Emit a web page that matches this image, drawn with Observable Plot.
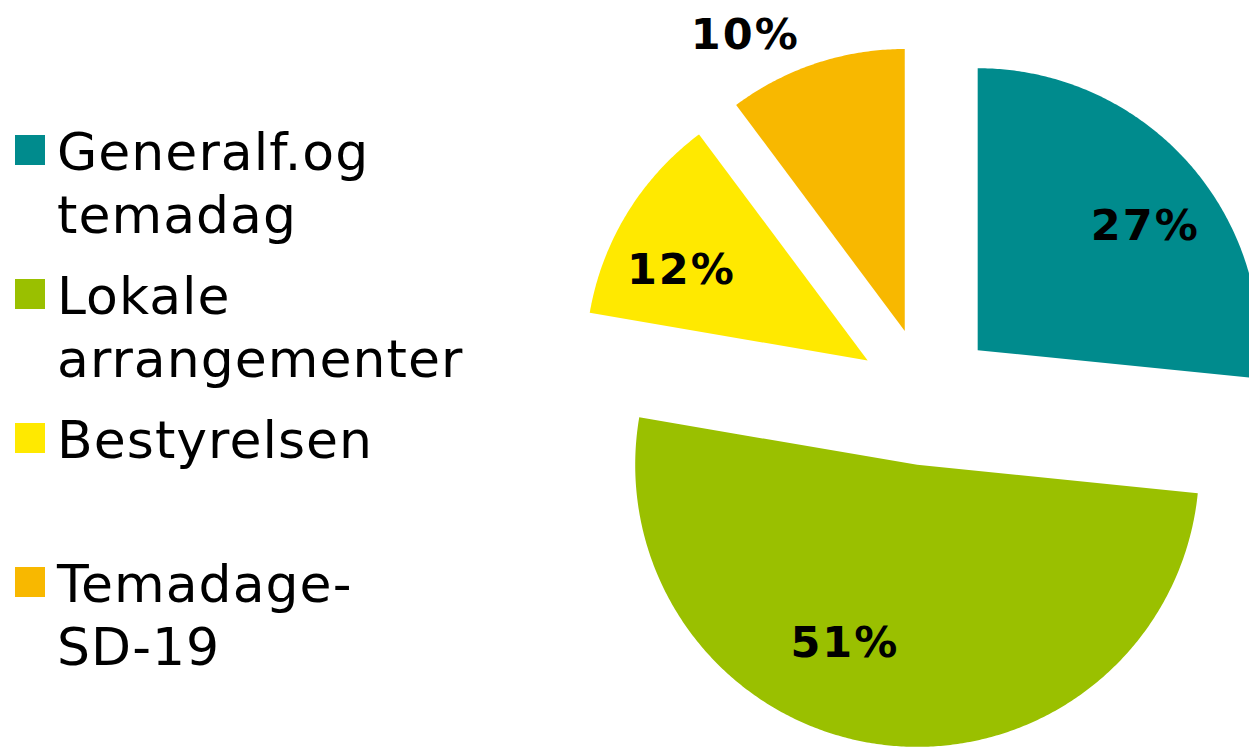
<!DOCTYPE html>
<html><head><meta charset="utf-8">
<script src="https://cdn.jsdelivr.net/npm/d3@7"></script>
<script src="https://cdn.jsdelivr.net/npm/@observablehq/plot@0.6"></script>
<style>
html,body{margin:0;padding:0;background:#fff;overflow:hidden;}
#wrap{position:relative;width:1249px;height:748px;overflow:hidden;}
#wrap svg text{letter-spacing:2px;}
#legend{position:absolute;left:0;top:120.5px;font-family:"DejaVu Sans",Verdana,sans-serif;font-size:52px;line-height:63px;color:#000;}
.item{position:relative;height:144px;}
.sw{position:absolute;left:15px;top:14.5px;width:30px;height:30px;}
.lab{position:absolute;left:57px;top:0;white-space:pre;letter-spacing:0.02em;}
</style></head><body><div id="wrap"></div>
<script>
// ---- data ----
const categories = ["Generalf.og temadag", "Lokale arrangementer", "Bestyrelsen", "Temadage-SD-19"];
const legendLines = [["Generalf.og", "temadag"], ["Lokale", "arrangementer"], ["Bestyrelsen"], ["Temadage-", "SD-19"]];
const shares = [26.6, 51.1, 12.1, 10.2];
const percentLabels = ["27%", "51%", "12%", "10%"];
const colors = ["#008B8D", "#9AC000", "#FFE900", "#F8B800"];

// ---- layout (not data) ----
const W = 1249, H = 748, cx = 926, cy = 396, R = 282;
const explode = 69 / R;
const labelPlace = [{r: 0.737, da: 5.4}, {r: 0.684, da: 14.6}, {r: 0.737, da: -5.8}, {r: 1.194, da: -10.1}];
const rad = Math.PI / 180;

const rows = categories.map((c, i) => ({name: c, share: shares[i], label: percentLabels[i]}));
const arcs = d3.pie().sort(null).value(d => d.share)(rows);

const poly = [];
const labels = [];
arcs.forEach((a, i) => {
  const mid = (a.startAngle + a.endAngle) / 2;
  const ox = explode * Math.sin(mid), oy = explode * Math.cos(mid);
  poly.push({name: a.data.name, x: ox, y: oy});
  const n = Math.max(2, Math.ceil((a.endAngle - a.startAngle) / (0.5 * rad)));
  for (let k = 0; k <= n; k++) {
    const t = a.startAngle + (a.endAngle - a.startAngle) * k / n;
    poly.push({name: a.data.name, x: ox + Math.sin(t), y: oy + Math.cos(t)});
  }
  poly.push({name: a.data.name, x: ox, y: oy});
  const la = mid + labelPlace[i].da * rad;
  labels.push({text: a.data.label, x: ox + labelPlace[i].r * Math.sin(la), y: oy + labelPlace[i].r * Math.cos(la)});
});

const chart = Plot.plot({
  width: W, height: H,
  margin: 0,
  x: {domain: [-cx / R, (W - cx) / R], range: [0, W], axis: null},
  y: {domain: [-(H - cy) / R, cy / R], range: [H, 0], axis: null},
  color: {domain: categories, range: colors, legend: false},
  style: {background: "white", fontFamily: "DejaVu Sans, Verdana, sans-serif"},
  marks: [
    Plot.line(poly, {x: "x", y: "y", z: "name", fill: "name", stroke: "none", curve: "linear"}),
    Plot.text(labels, {x: "x", y: "y", text: "text", fontSize: 43, fontWeight: "bold",
      fontFamily: "DejaVu Sans, Verdana, sans-serif", fill: "black", textAnchor: "middle", dx: 1})
  ]
});

const wrap = document.getElementById("wrap");
wrap.appendChild(chart);

const legend = document.createElement("div");
legend.id = "legend";
categories.forEach((c, i) => {
  const item = document.createElement("div");
  item.className = "item";
  const sw = document.createElement("div");
  sw.className = "sw";
  sw.style.background = colors[i];
  const lab = document.createElement("div");
  lab.className = "lab";
  lab.textContent = legendLines[i].join("\n");
  item.appendChild(sw);
  item.appendChild(lab);
  legend.appendChild(item);
});
wrap.appendChild(legend);
</script>
</body></html>
